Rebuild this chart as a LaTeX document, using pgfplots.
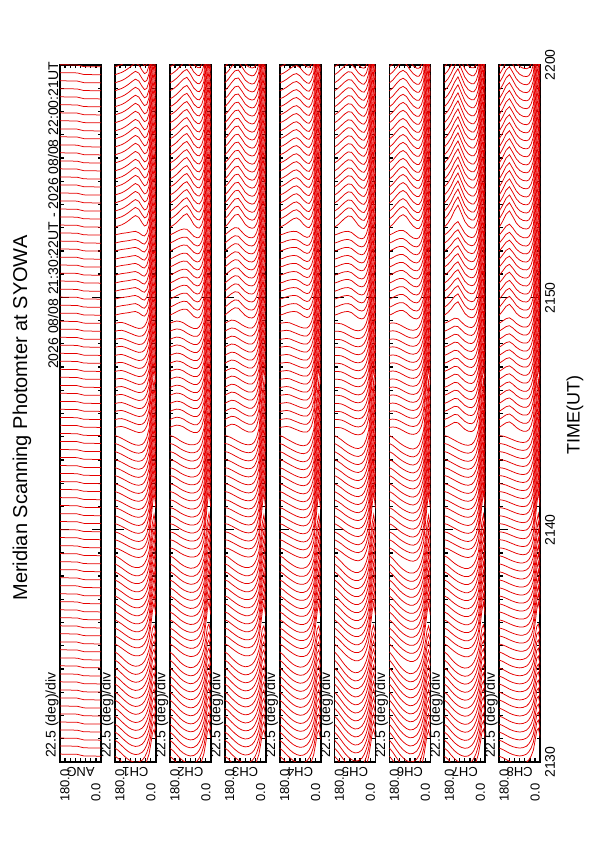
\documentclass[border=0pt]{standalone}
\usepackage{pgfplots}
\pgfplotsset{compat=1.18}
\usepackage{pgfplotstable}
\usepackage{fontspec}
\setmainfont{Liberation Sans}
\definecolor{tr}{RGB}{230,0,0}

% scan start times, minutes after 21:30 UT, six segments
\def\tA{0.25,0.60,0.94,1.29,1.63,1.98,2.32,2.67,3.01,3.36,3.70,4.05,4.39,4.74}
\def\tP{5.08,5.43,5.77,6.12,6.46,6.81,7.15,7.50,7.84,8.19,8.53,8.88}
\def\tB{9.22,9.57,9.91,10.26,10.60,10.95,11.29,11.64,11.98,12.33,12.67,13.02,13.36,13.71,14.05}
\def\tC{14.40,14.74,15.09,15.43,15.78,16.12,16.47,16.81,17.16,17.50,17.85,18.19,18.54,18.88}
\def\tQ{19.23,19.57,19.92,20.26,20.61,20.95,21.30,21.64,21.99,22.33,22.68}
\def\tD{23.02,23.37,23.71,24.06,24.40,24.75,25.09,25.44,25.78,26.13,26.47,26.82,27.16,27.51,27.85,28.20,28.54,28.89,29.23,29.58,29.92}

\pgfplotstableread{
ang a
180 0.09
105 0.08
75 0.01
0 0.00
}\pANG

\pgfplotstableread{
ang a p b c q d
180 0 0 0 0 0 0
165 -0.10 -0.08 -0.05 0.03 0.04 0.05
150 -0.24 -0.18 -0.12 0.04 0.07 0.10
135 -0.38 -0.29 -0.20 0.00 0.09 0.18
120 -0.50 -0.39 -0.28 -0.06 0.11 0.28
105 -0.58 -0.47 -0.35 -0.12 0.14 0.40
90 -0.62 -0.51 -0.40 -0.18 0.16 0.50
75 -0.60 -0.51 -0.42 -0.22 0.10 0.42
60 -0.52 -0.45 -0.38 -0.20 -0.01 0.18
50 -0.40 -0.34 -0.28 -0.12 -0.04 0.05
40 -0.20 -0.14 -0.08 0.06 0.08 0.10
30 0.10 0.20 0.30 0.42 0.41 0.40
22 0.55 0.82 1.10 1.25 1.25 1.25
15 1.00 1.42 1.85 2.00 2.00 2.00
8 1.15 1.78 2.40 2.55 2.55 2.55
0 0.75 1.22 1.70 1.85 1.85 1.85
}\pCHa

\pgfplotstableread{
ang a p b c q d
180 0 0 0 0 0 0
165 -0.12 -0.08 -0.04 0.06 0.07 0.08
150 -0.28 -0.20 -0.12 0.10 0.15 0.20
135 -0.44 -0.33 -0.22 0.08 0.22 0.35
120 -0.56 -0.43 -0.30 0.02 0.26 0.50
105 -0.64 -0.50 -0.36 -0.08 0.25 0.58
90 -0.68 -0.54 -0.40 -0.16 0.11 0.38
75 -0.66 -0.53 -0.40 -0.22 -0.05 0.12
60 -0.56 -0.46 -0.35 -0.22 -0.12 -0.02
50 -0.42 -0.34 -0.25 -0.14 -0.09 -0.04
40 -0.20 -0.12 -0.05 0.04 0.07 0.10
30 0.12 0.22 0.32 0.40 0.41 0.42
22 0.58 0.86 1.15 1.22 1.25 1.28
15 1.05 1.48 1.92 1.98 2.00 2.02
8 1.20 1.82 2.45 2.52 2.55 2.58
0 0.78 1.26 1.75 1.82 1.85 1.88
}\pCHb

\pgfplotstableread{
ang a p b c q d
180 0 0 0 0 0 0
165 -0.10 -0.06 -0.03 0.08 0.12 0.15
150 -0.26 -0.18 -0.10 0.14 0.24 0.35
135 -0.40 -0.29 -0.18 0.12 0.32 0.52
120 -0.52 -0.39 -0.26 0.04 0.30 0.55
105 -0.60 -0.46 -0.33 -0.06 0.14 0.35
90 -0.64 -0.51 -0.38 -0.14 -0.01 0.12
75 -0.62 -0.51 -0.40 -0.20 -0.10 0.00
60 -0.54 -0.46 -0.37 -0.20 -0.12 -0.05
50 -0.42 -0.35 -0.28 -0.12 -0.07 -0.02
40 -0.22 -0.15 -0.08 0.06 0.10 0.14
30 0.08 0.18 0.28 0.42 0.44 0.46
22 0.52 0.80 1.08 1.25 1.28 1.30
15 0.98 1.40 1.82 2.00 2.02 2.05
8 1.12 1.75 2.38 2.55 2.58 2.60
0 0.72 1.20 1.68 1.85 1.88 1.90
}\pCHc

\pgfplotstableread{
ang a p b c q d
180 0 0 0 0 0 0
165 -0.12 -0.08 -0.05 0.02 0.04 0.06
150 -0.28 -0.21 -0.14 0.04 0.10 0.15
135 -0.42 -0.32 -0.22 0.02 0.14 0.26
120 -0.54 -0.42 -0.30 -0.04 0.16 0.36
105 -0.62 -0.50 -0.37 -0.10 0.15 0.40
90 -0.66 -0.54 -0.42 -0.16 0.07 0.30
75 -0.64 -0.54 -0.44 -0.20 -0.04 0.12
60 -0.55 -0.48 -0.40 -0.20 -0.10 0.00
50 -0.42 -0.36 -0.30 -0.12 -0.07 -0.02
40 -0.22 -0.16 -0.10 0.06 0.09 0.12
30 0.08 0.17 0.26 0.42 0.43 0.44
22 0.52 0.79 1.06 1.25 1.26 1.27
15 0.98 1.39 1.80 2.00 2.01 2.02
8 1.12 1.74 2.35 2.55 2.56 2.57
0 0.72 1.19 1.66 1.85 1.86 1.87
}\pCHd

\pgfplotstableread{
ang a p b c q d
180 0 0 0 0 0 0
165 -0.16 -0.12 -0.08 0.00 0.05 0.10
150 -0.36 -0.27 -0.18 -0.02 0.11 0.24
135 -0.56 -0.43 -0.30 -0.08 0.15 0.38
120 -0.72 -0.56 -0.40 -0.16 0.16 0.48
105 -0.84 -0.66 -0.48 -0.24 0.11 0.46
90 -0.90 -0.72 -0.54 -0.30 -0.01 0.28
75 -0.88 -0.72 -0.56 -0.32 -0.12 0.08
60 -0.78 -0.64 -0.50 -0.28 -0.16 -0.04
50 -0.62 -0.50 -0.38 -0.18 -0.12 -0.06
40 -0.38 -0.26 -0.14 0.02 0.05 0.08
30 -0.02 0.11 0.24 0.38 0.39 0.40
22 0.48 0.77 1.06 1.20 1.22 1.24
15 0.95 1.38 1.82 1.96 1.98 2.00
8 1.15 1.76 2.38 2.52 2.54 2.55
0 0.78 1.24 1.70 1.82 1.84 1.85
}\pCHe

\pgfplotstableread{
ang a p b c q d
180 0 0 0 0 0 0
165 -0.18 -0.13 -0.08 0.02 0.07 0.12
150 -0.40 -0.30 -0.20 0.00 0.15 0.30
135 -0.60 -0.46 -0.32 -0.06 0.20 0.46
120 -0.76 -0.59 -0.42 -0.14 0.20 0.54
105 -0.88 -0.69 -0.50 -0.22 0.11 0.44
90 -0.94 -0.75 -0.56 -0.28 -0.03 0.22
75 -0.92 -0.75 -0.58 -0.30 -0.13 0.04
60 -0.82 -0.67 -0.52 -0.26 -0.16 -0.06
50 -0.66 -0.53 -0.40 -0.16 -0.11 -0.06
40 -0.42 -0.29 -0.16 0.04 0.06 0.08
30 -0.06 0.08 0.22 0.40 0.40 0.40
22 0.44 0.74 1.04 1.22 1.23 1.24
15 0.90 1.35 1.80 1.98 1.99 2.00
8 1.12 1.74 2.36 2.54 2.54 2.55
0 0.78 1.23 1.68 1.84 1.84 1.85
}\pCHf

\pgfplotstableread{
ang a p b c q d
180 0 0 0 0 0 0
165 -0.12 -0.08 -0.04 0.06 0.11 0.16
150 -0.30 -0.21 -0.12 0.14 0.27 0.40
135 -0.46 -0.33 -0.20 0.22 0.47 0.72
120 -0.58 -0.43 -0.28 0.20 0.58 0.95
105 -0.66 -0.50 -0.35 0.06 0.33 0.60
90 -0.70 -0.55 -0.40 -0.08 0.08 0.25
75 -0.68 -0.55 -0.42 -0.16 -0.06 0.05
60 -0.58 -0.48 -0.38 -0.18 -0.11 -0.04
50 -0.44 -0.36 -0.28 -0.12 -0.08 -0.04
40 -0.22 -0.15 -0.08 0.06 0.08 0.10
30 0.10 0.19 0.28 0.42 0.42 0.42
22 0.56 0.83 1.10 1.25 1.25 1.25
15 1.02 1.44 1.86 2.00 2.01 2.02
8 1.16 1.79 2.42 2.55 2.56 2.58
0 0.76 1.24 1.72 1.85 1.86 1.88
}\pCHg

\pgfplotstableread{
ang a p b c q d
180 0 0 0 0 0 0
165 -0.06 -0.04 -0.02 0.10 0.18 0.25
150 -0.14 -0.10 -0.06 0.20 0.38 0.55
135 -0.22 -0.17 -0.12 0.24 0.47 0.70
120 -0.28 -0.23 -0.18 0.14 0.30 0.45
105 -0.32 -0.28 -0.24 0.00 0.09 0.18
90 -0.34 -0.31 -0.28 -0.10 -0.04 0.02
75 -0.32 -0.31 -0.30 -0.16 -0.11 -0.06
60 -0.26 -0.26 -0.27 -0.16 -0.12 -0.08
50 -0.16 -0.17 -0.18 -0.10 -0.07 -0.04
40 0.00 0.00 0.00 0.08 0.10 0.12
30 0.26 0.30 0.34 0.44 0.44 0.44
22 0.70 0.92 1.14 1.26 1.26 1.26
15 1.10 1.49 1.88 2.02 2.02 2.02
8 1.20 1.81 2.42 2.58 2.58 2.58
0 0.80 1.27 1.74 1.88 1.88 1.88
}\pCHh

\pgfplotsset{
  trace/.style={tr, line width=0.75pt, mark=none},
  panel/.style={
    scale only axis, width=41pt, height=697pt, anchor=south west,
    xmin=0, xmax=180, x dir=reverse, ymin=0, ymax=30,
    xtick={0,22.5,...,180}, xticklabels={},
    ytick={0,10,20,30}, minor ytick={1,2,...,29}, yticklabels={},
    tick align=inside,
    major tick length=9pt, minor tick length=3.5pt,
    xtick style={/pgfplots/major tick length=3.5pt},
    axis line style={line width=1.8pt, black},
    every tick/.append style={black, line width=1.3pt},
    clip=true,
  },
}

\newcommand{\lab}[2]{%
  \node[rotate=90, anchor=west, inner sep=0pt, font=\fontsize{14}{16}\selectfont] at ({#1pt-8pt},84pt) {22.5 (deg)/div};
  \node[rotate=90, anchor=west, inner sep=0pt, font=\fontsize{13}{15}\selectfont] at ({#1pt+5pt},40pt) {180.0};
  \node[rotate=90, anchor=west, inner sep=0pt, font=\fontsize{13}{15}\selectfont] at ({#1pt+36pt},40pt) {0.0};
  \node[rotate=180, inner sep=0pt, font=\fontsize{13}{15}\selectfont] at ({#1pt+20.5pt},70pt) {#2};
}

\newcommand{\seg}[3]{% #1 time list, #2 column, #3 table
  \expandafter\pgfplotsinvokeforeach\expandafter{#1}{\addplot[trace] table[x=ang, y expr=\thisrow{#2}+##1] {#3};}%
}

\newcommand{\panelCH}[3]{%
  \begin{axis}[panel, at={(#1pt,80pt)}]
    \seg{\tA}{a}{#2}
    \seg{\tP}{p}{#2}
    \seg{\tB}{b}{#2}
    \seg{\tC}{c}{#2}
    \seg{\tQ}{q}{#2}
    \seg{\tD}{d}{#2}
  \end{axis}
  \lab{#1}{#3}
}

\begin{document}
\begin{tikzpicture}
\useasboundingbox (0pt,0pt) rectangle (595pt,842pt);

\begin{axis}[panel, at={(60pt,80pt)}]
  \seg{\tA}{a}{\pANG}
  \seg{\tP}{a}{\pANG}
  \seg{\tB}{a}{\pANG}
  \seg{\tC}{a}{\pANG}
  \seg{\tQ}{a}{\pANG}
  \seg{\tD}{a}{\pANG}
\end{axis}
\lab{60}{ANG}

\panelCH{114.9}{\pCHa}{CH1}
\panelCH{169.8}{\pCHb}{CH2}
\panelCH{224.7}{\pCHc}{CH3}
\panelCH{279.6}{\pCHd}{CH4}
\panelCH{334.5}{\pCHe}{CH5}
\panelCH{389.4}{\pCHf}{CH6}
\panelCH{444.3}{\pCHg}{CH7}
\panelCH{499.2}{\pCHh}{CH8}

\node[rotate=90, inner sep=0pt, font=\fontsize{20}{23}\selectfont] at (22pt,424pt) {Meridian Scanning Photomter at SYOWA};
\node[rotate=90, anchor=east, inner sep=0pt, font=\fontsize{14}{16}\selectfont] at (53pt,780pt) {2026 08/08 21:30:22UT - 2026 08/08 22:00:21UT};
\node[rotate=90, inner sep=0pt, font=\fontsize{18}{21}\selectfont] at (575pt,427pt) {TIME(UT)};
\node[rotate=90, inner sep=0pt, font=\fontsize{14}{16}\selectfont] at (550pt,80pt) {2130};
\node[rotate=90, inner sep=0pt, font=\fontsize{14}{16}\selectfont] at (550pt,312pt) {2140};
\node[rotate=90, inner sep=0pt, font=\fontsize{14}{16}\selectfont] at (550pt,544pt) {2150};
\node[rotate=90, inner sep=0pt, font=\fontsize{14}{16}\selectfont] at (550pt,777pt) {2200};
\end{tikzpicture}
\end{document}
